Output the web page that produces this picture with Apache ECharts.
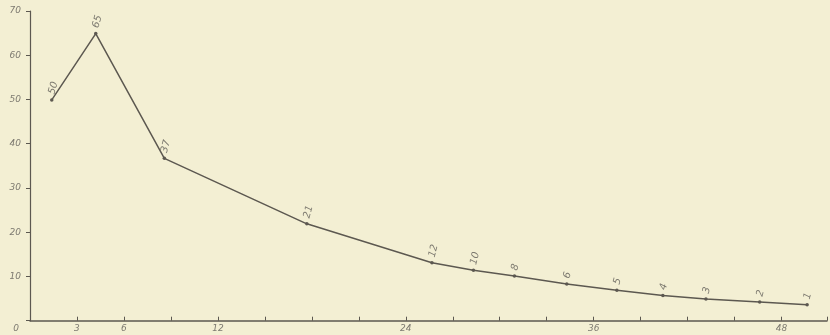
<!DOCTYPE html>
<html>
<head>
<meta charset="utf-8">
<script src="https://cdn.jsdelivr.net/npm/echarts@6/dist/echarts.min.js"></script>
<style>
html,body{margin:0;padding:0;background:#f3efd3;}
#c{width:830px;height:335px;}
</style>
</head>
<body>
<div id="c"></div>
<script>
// x positions of the plotted points
var xValues = [1.39, 4.2, 8.58, 17.68, 25.67, 28.32, 30.94, 34.28, 37.48, 40.42, 43.17, 46.6, 49.63];
// plotted heights as they appear against the y scale
var yValues = [49.9, 64.9, 36.7, 21.9, 13.1, 11.4, 10.1, 8.3, 6.9, 5.7, 4.9, 4.2, 3.6];
// numbers written beside each point
var pointLabels = ['50', '65', '37', '21', '12', '10', '8', '6', '5', '4', '3', '2', '1'];
// labelled x ticks
var xTickLabels = [3, 6, 12, 24, 36, 48];
var yTicks = [0, 10, 20, 30, 40, 50, 60, 70];

var ink = '#5c5850';
var grey = '#7d7a70';
var lblFont = {fontFamily: 'DejaVu Sans', fontStyle: 'italic', fontSize: 9, color: grey};

var data = xValues.map(function (x, i) {
  return {
    value: [x, yValues[i]],
    label: {formatter: pointLabels[i]}
  };
});

var chart = echarts.init(document.getElementById('c'), null, {renderer: 'canvas'});
chart.setOption({
  backgroundColor: '#f3efd3',
  animation: false,
  grid: {left: 30, top: 11, width: 798, bottom: 14.3, containLabel: false},
  xAxis: {
    type: 'value', min: 0, max: 50.9, interval: 3,
    axisLine: {show: true, lineStyle: {color: ink, width: 1.5}},
    axisTick: {show: true, inside: true, length: 4, lineStyle: {color: ink, width: 1}},
    splitLine: {show: false},
    axisLabel: Object.assign({
      margin: 3,
      showMinLabel: true,
      formatter: function (v) { return xTickLabels.indexOf(v) >= 0 ? String(v) : ''; }
    }, lblFont)
  },
  yAxis: {
    type: 'value', min: yTicks[0], max: yTicks[yTicks.length - 1], interval: 10,
    axisLine: {show: true, lineStyle: {color: ink, width: 1.2}},
    axisTick: {show: true, inside: false, length: 4, lineStyle: {color: ink, width: 1}},
    splitLine: {show: false},
    axisLabel: Object.assign({
      margin: 9,
      formatter: function (v) { return v === 0 ? '{z|0}' : String(v); },
      rich: {z: Object.assign({padding: [15, 2, 0, 0]}, lblFont)}
    }, lblFont)
  },
  series: [{
    type: 'line',
    data: data,
    symbol: 'circle',
    symbolSize: 3.5,
    itemStyle: {color: ink},
    lineStyle: {color: ink, width: 1.5},
    label: Object.assign({
      show: true,
      position: 'top',
      distance: 4,
      rotate: 75,
      align: 'left',
      verticalAlign: 'middle'
    }, lblFont, {fontSize: 10})
  }]
});
</script>
</body>
</html>
